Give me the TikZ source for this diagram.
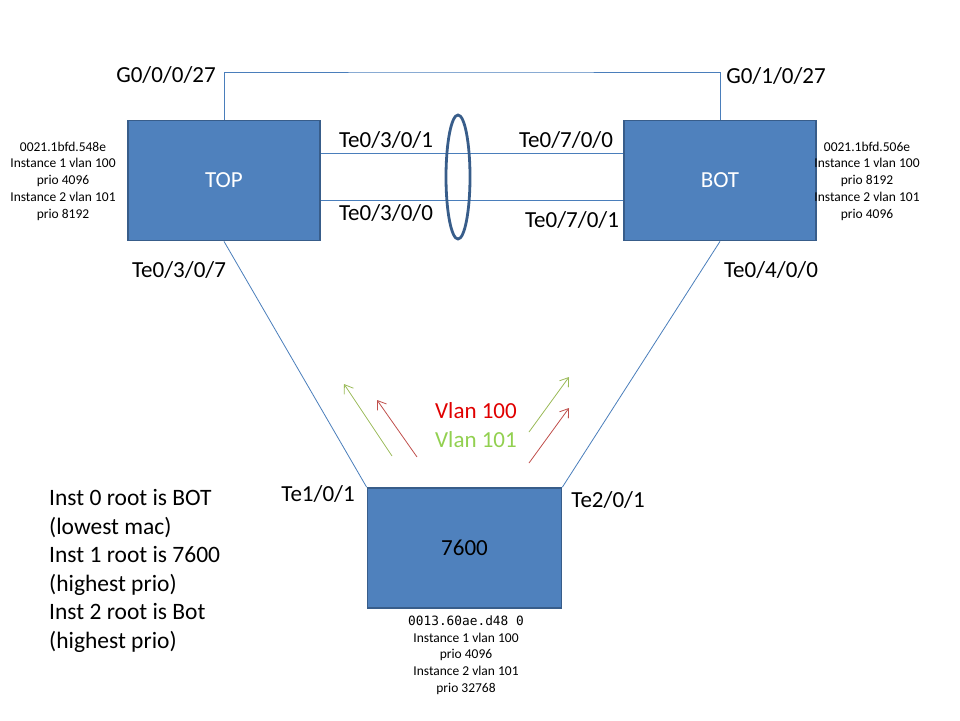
\documentclass[tikz,border=0pt]{standalone}
\usepackage{fontspec}
\setmainfont{Carlito}
\newfontfamily\monofnt{DejaVu Sans Mono}
\usetikzlibrary{arrows.meta,shapes.geometric}
\definecolor{boxfill}{HTML}{4F81BD}
\definecolor{boxline}{HTML}{385D8A}
\definecolor{linkblue}{HTML}{4A7EBB}
\definecolor{arrgreen}{HTML}{9BBB59}
\definecolor{arrred}{HTML}{C0504D}
\definecolor{txtred}{HTML}{E00000}
\definecolor{txtgreen}{HTML}{92D050}
\tikzset{
  switchbox/.style={draw=boxline, line width=1.8pt, fill=boxfill, minimum width=192pt, minimum height=120pt, inner sep=0pt, font=\fontsize{23}{27}\selectfont},
  link/.style={draw=linkblue, line width=0.8pt},
  portlbl/.style={inner sep=0pt, font=\fontsize{23}{27}\selectfont},
  infolbl/.style={inner sep=0pt, align=center, font=\fontsize{13.5}{16.7}\selectfont},
  vlanarrow/.style={line width=0.8pt, -{Straight Barb[length=8pt,width=11pt]}},
}
\begin{document}
\begin{tikzpicture}[x=1pt,y=-1pt]
\useasboundingbox (0,0) rectangle (960,720);
% switches
\node[switchbox, text=white] (top) at (224,180.5) {TOP};
\node[switchbox, text=white] (bot) at (720,180.5) {BOT};
\node[switchbox, minimum width=194pt, text=black] (r7600) at (464.5,548) {7600};
% top link
\coordinate (gtop) at (470,72);
\draw[link] (top.north) |- (gtop) -| (bot.north);
% parallel links
\draw[link] ([yshift=27.5pt]top.east) -- ([yshift=27.5pt]bot.west);
\draw[link] ([yshift=-19.5pt]top.east) -- ([yshift=-19.5pt]bot.west);
% port channel ellipse
\node[ellipse, draw=boxline, line width=2.8pt, minimum width=24pt, minimum height=124pt, inner sep=0pt] (lag) at (458,177) {};
% diagonal links
\draw[link] (top.south) -- (r7600.north west);
\draw[link] (bot.south) -- (r7600.north east);
% vlan arrows
\coordinate (ga1) at (392,456); \coordinate (ga2) at (344,384);
\coordinate (ra1) at (417,457); \coordinate (ra2) at (377,400);
\coordinate (gb1) at (529,432); \coordinate (gb2) at (569,377);
\coordinate (rb1) at (529,463); \coordinate (rb2) at (569,408);
\draw[vlanarrow, arrgreen] (ga1) -- (ga2);
\draw[vlanarrow, arrred] (ra1) -- (ra2);
\draw[vlanarrow, arrgreen] (gb1) -- (gb2);
\draw[vlanarrow, arrred] (rb1) -- (rb2);
\node[portlbl, text=txtred] (v100) at (476,411) {Vlan 100};
\node[portlbl, text=txtgreen] (v101) at (476,440) {Vlan 101};
% port labels
\node[portlbl] (g1) at (166,75) {G0/0/0/27};
\node[portlbl] (g2) at (776,76) {G0/1/0/27};
\node[portlbl] (p1) at (386,140) {Te0/3/0/1};
\node[portlbl] (p2) at (566,140) {Te0/7/0/0};
\node[portlbl] (p3) at (386,213) {Te0/3/0/0};
\node[portlbl] (p4) at (572,220) {Te0/7/0/1};
\node[portlbl] (p5) at (179,270) {Te0/3/0/7};
\node[portlbl] (p6) at (771,270) {Te0/4/0/0};
\node[portlbl] (p7) at (318,494) {Te1/0/1};
\node[portlbl] (p8) at (608,500) {Te2/0/1};
% info labels
\node[infolbl] (itop) at (63,181) {0021.1bfd.548e\\Instance 1 vlan 100\\prio 4096\\Instance 2 vlan 101\\prio 8192};
\node[infolbl] (ibot) at (867,181) {0021.1bfd.506e\\Instance 1 vlan 100\\prio 8192\\Instance 2 vlan 101\\prio 4096};
\node[infolbl] (i7600) at (466,655) {{\monofnt\fontsize{12.8}{16.7}\selectfont 0013.60ae.d48 0}\\Instance 1 vlan 100\\prio 4096\\Instance 2 vlan 101\\prio 32768};
% root summary
\node[inner sep=0pt, align=left, anchor=west, font=\fontsize{23.5}{28.6}\selectfont] (roots) at (49,571) {Inst 0 root is BOT\\(lowest mac)\\Inst 1 root is 7600\\(highest prio)\\Inst 2 root is Bot\\(highest prio)};
\end{tikzpicture}
\end{document}
